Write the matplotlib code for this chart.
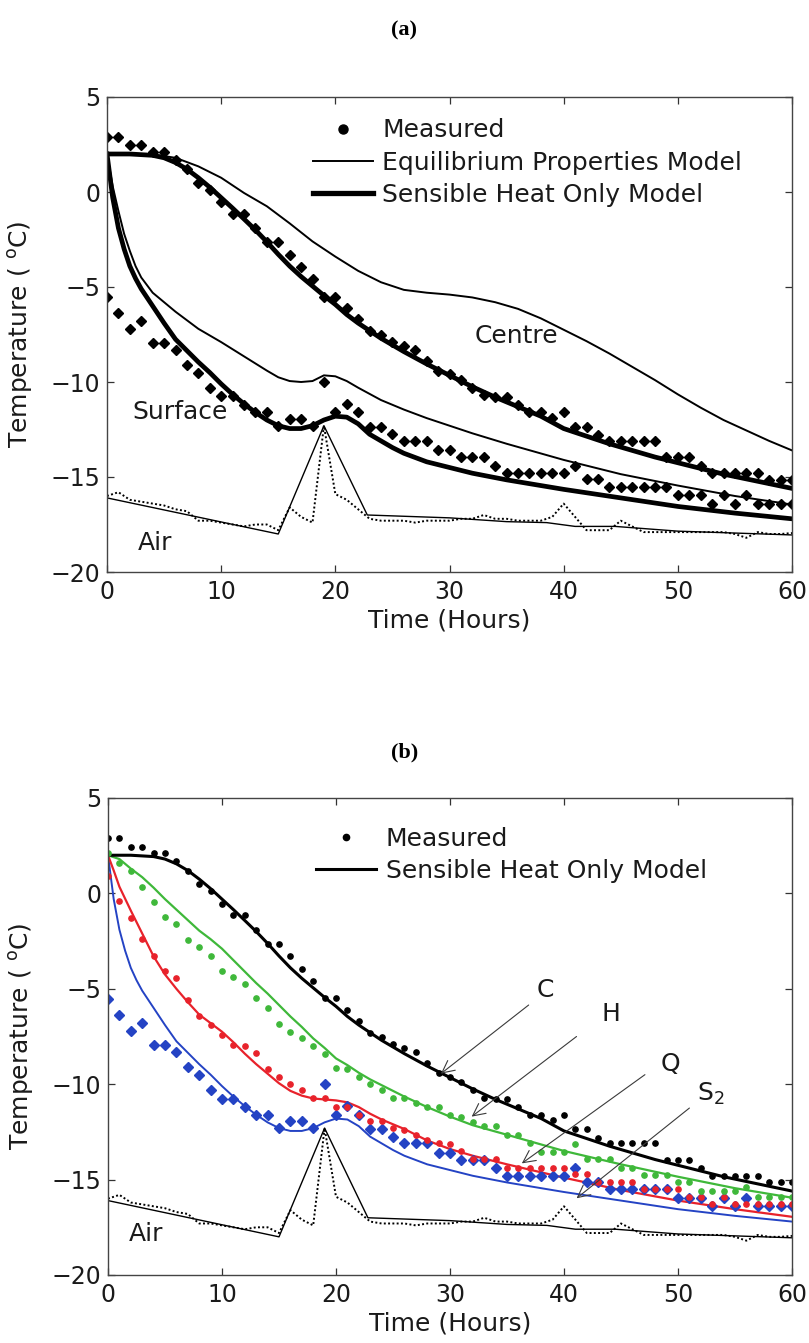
import numpy as np
import matplotlib
matplotlib.use("Agg")
import matplotlib.pyplot as plt
from matplotlib.lines import Line2D

# ---------------- data ----------------
hours = np.arange(0, 61)

# measured product temperatures, one reading per hour
centre_meas = [2.9, 2.9, 2.45, 2.45, 2.1, 2.1, 1.7, 1.2, 0.5, 0.1,
               -0.55, -1.15, -1.15, -1.9, -2.65, -2.65, -3.3, -3.95, -4.6, -5.5,
               -5.5, -6.1, -6.7, -7.3, -7.5, -7.9, -8.1, -8.3, -8.9, -9.4,
               -9.6, -9.9, -10.3, -10.7, -10.8, -10.8, -11.2, -11.6, -11.6, -11.9,
               -11.6, -12.35, -12.35, -12.8, -13.1, -13.1, -13.1, -13.1, -13.1, -13.95,
               -13.95, -13.95, -14.4, -14.8, -14.8, -14.8, -14.8, -14.8, -15.15, -15.15,
               -15.15]
surface_meas = [-5.55, -6.35, -7.2, -6.8, -7.95, -7.95, -8.3, -9.1, -9.5, -10.3,
                -10.75, -10.75, -11.2, -11.6, -11.6, -12.3, -11.95, -11.95, -12.3, -10.0,
                -11.6, -11.15, -11.6, -12.35, -12.35, -12.75, -13.1, -13.1, -13.1, -13.6,
                -13.6, -13.95, -13.95, -13.95, -14.4, -14.8, -14.8, -14.8, -14.8, -14.8,
                -14.8, -14.4, -15.1, -15.1, -15.5, -15.5, -15.5, -15.5, -15.5, -15.5,
                -15.95, -15.95, -15.95, -16.4, -15.95, -16.4, -15.95, -16.4, -16.4, -16.4,
                -16.4]
half_meas = [2.1, 1.6, 1.17, 0.35, -0.43, -1.25, -1.6, -2.44, -2.8, -3.27,
             -4.05, -4.4, -4.75, -5.5, -6.0, -6.85, -7.25, -7.6, -8.0, -8.4,
             -9.15, -9.2, -9.6, -10.0, -10.3, -10.7, -10.7, -11.0, -11.18, -11.18,
             -11.6, -11.7, -11.96, -12.2, -12.2, -12.66, -12.66, -13.1, -13.57, -13.57,
             -13.57, -13.15, -13.9, -13.9, -13.9, -14.4, -14.4, -14.75, -14.75, -14.75,
             -15.1, -15.1, -15.6, -15.6, -15.6, -15.6, -15.4, -15.9, -15.9, -15.9,
             -15.9]
quarter_meas = [0.9, -0.4, -1.3, -2.4, -3.3, -4.05, -4.45, -5.6, -6.4, -6.9,
                -7.4, -7.95, -8.0, -8.35, -9.2, -9.6, -10.0, -10.3, -10.7, -10.7,
                -11.2, -11.2, -11.6, -11.95, -11.95, -12.3, -12.4, -12.65, -12.9, -13.1,
                -13.15, -13.5, -13.9, -13.9, -13.9, -14.4, -14.4, -14.4, -14.4, -14.4,
                -14.4, -14.7, -14.7, -15.1, -15.1, -15.1, -15.1, -15.5, -15.5, -15.5,
                -15.5, -15.9, -15.9, -16.3, -15.9, -16.3, -16.3, -16.3, -16.3, -16.3,
                -16.3]
air_meas = [-16.0, -15.8, -16.2, -16.3, -16.4, -16.5, -16.7, -16.8, -17.3, -17.3,
            -17.4, -17.5, -17.6, -17.5, -17.5, -17.8, -16.6, -17.1, -17.4, -12.3,
            -15.9, -16.2, -16.7, -17.2, -17.3, -17.3, -17.3, -17.4, -17.3, -17.3,
            -17.3, -17.2, -17.2, -17.0, -17.2, -17.2, -17.3, -17.3, -17.3, -17.1,
            -16.4, -17.1, -17.8, -17.8, -17.8, -17.3, -17.6, -17.9, -17.9, -17.9,
            -17.9, -17.9, -17.9, -17.9, -17.9, -18.0, -18.2, -17.9, -18.0, -18.0,
            -17.95]

# air temperature used as model boundary condition
air_model_t = [0, 15, 19, 22.8, 30, 35, 38.5, 41, 44.5, 50, 55, 60]
air_model_T = [-16.1, -18.0, -12.3, -17.0, -17.15, -17.35, -17.4, -17.6, -17.6, -17.85, -17.95, -18.05]

# sensible heat only model, centre
centre_shm_t = [0, 2, 4, 5, 6, 7, 8, 9, 10, 11, 12, 13, 14, 15, 16, 17, 18, 19, 20, 21,
                22, 23, 24, 25, 26, 28, 30, 32, 34, 36, 38, 40, 42, 44, 46, 48, 50, 52,
                54, 56, 58, 60]
centre_shm_T = [2.0, 2.0, 1.93, 1.8, 1.55, 1.2, 0.75, 0.25, -0.3, -0.85, -1.42, -2.0, -2.62,
                -3.28, -3.9, -4.45, -4.95, -5.45, -5.92, -6.45, -6.9, -7.3, -7.7, -8.05,
                -8.4, -9.05, -9.65, -10.25, -10.8, -11.3, -11.8, -12.45, -12.85, -13.25,
                -13.6, -13.95, -14.25, -14.55, -14.85, -15.1, -15.35, -15.6]

# equilibrium properties model, centre
centre_epm_t = [0, 2, 4, 6, 8, 10, 12, 14, 16, 18, 20, 22, 24, 26, 28, 30, 32, 34, 36, 38,
                40, 42, 44, 46, 48, 50, 52, 54, 56, 58, 60]
centre_epm_T = [2.0, 2.0, 1.98, 1.8, 1.35, 0.75, -0.05, -0.75, -1.65, -2.6, -3.4, -4.15,
                -4.75, -5.15, -5.3, -5.4, -5.55, -5.8, -6.15, -6.65, -7.25, -7.85, -8.5,
                -9.2, -9.9, -10.65, -11.35, -12.0, -12.55, -13.1, -13.6]

# equilibrium properties model, surface
surface_epm_t = [0, 0.5, 1, 1.5, 2, 2.5, 3, 4, 5, 6, 7, 8, 10, 12, 14, 15, 16, 17, 18, 19,
                 20, 21, 22, 24, 26, 28, 30, 32, 35, 40, 45, 50, 55, 60]
surface_epm_T = [2.0, 0.3, -1.0, -2.2, -3.1, -3.9, -4.5, -5.3, -5.8, -6.3, -6.75, -7.2,
                 -7.9, -8.65, -9.4, -9.75, -9.95, -10.0, -9.95, -9.65, -9.7, -9.95, -10.3,
                 -10.95, -11.45, -11.9, -12.3, -12.7, -13.25, -14.1, -14.85, -15.45, -16.0,
                 -16.45]

# sensible heat only model, surface (S2)
surface_shm_t = [0, 0.5, 1, 1.5, 2, 2.5, 3, 4, 5, 6, 7, 8, 9, 10, 11, 12, 13, 14, 15, 16,
                 17, 18, 19, 20, 21, 22, 23, 24, 25, 26, 28, 30, 32, 35, 40, 45, 50, 55, 60]
surface_shm_T = [2.0, -0.3, -1.9, -3.0, -3.9, -4.55, -5.1, -6.0, -6.9, -7.75, -8.35, -8.95,
                 -9.5, -10.1, -10.65, -11.15, -11.6, -12.0, -12.3, -12.45, -12.45, -12.3,
                 -12.0, -11.8, -11.85, -12.2, -12.75, -13.1, -13.45, -13.75, -14.2, -14.5,
                 -14.8, -15.15, -15.65, -16.1, -16.55, -16.9, -17.2]

# sensible heat only model, quarter depth (Q)
quarter_shm_t = [0, 0.5, 1, 2, 3, 4, 5, 6, 7, 8, 9, 10, 11, 12, 13, 14, 15, 16, 17, 18, 19,
                 20, 21, 22, 23, 24, 26, 28, 30, 32, 35, 40, 45, 50, 55, 60]
quarter_shm_T = [2.0, 1.2, 0.35, -0.9, -2.1, -3.3, -4.25, -5.0, -5.7, -6.35, -6.8, -7.25,
                 -7.8, -8.4, -8.95, -9.45, -9.95, -10.35, -10.6, -10.75, -10.8, -10.85,
                 -10.95, -11.2, -11.55, -11.85, -12.35, -12.95, -13.4, -13.75, -14.2,
                 -14.9, -15.55, -16.1, -16.55, -16.95]

# sensible heat only model, half depth (H)
half_shm_t = [0, 1, 2, 3, 4, 5, 6, 7, 8, 9, 10, 11, 12, 13, 14, 15, 16, 17, 18, 19, 20,
              21, 22, 23, 24, 26, 28, 30, 32, 35, 40, 45, 50, 55, 60]
half_shm_T = [2.0, 1.8, 1.3, 0.85, 0.3, -0.3, -0.85, -1.4, -1.95, -2.4, -2.9, -3.5, -4.1,
              -4.7, -5.25, -5.85, -6.45, -7.0, -7.6, -8.1, -8.65, -9.0, -9.4, -9.75, -10.05,
              -10.65, -11.2, -11.7, -12.15, -12.65, -13.5, -14.2, -14.85, -15.45, -15.95]

x_ticks = [0, 10, 20, 30, 40, 50, 60]
y_ticks = [-20, -15, -10, -5, 0, 5]

# ---------------- style ----------------
GREEN = "#3fb83a"
RED = "#e8222b"
BLUE = "#2443c4"
TXT = "#1a1a1a"
FS_TICK = 17
FS_LAB = 18
FS_TXT = 18

W, H = 809, 1343
fig = plt.figure(figsize=(W / 100, H / 100), dpi=100)


def frame(ax):
    ax.set_xlim(0, 60)
    ax.set_ylim(-20, 5)
    ax.set_xticks(x_ticks)
    ax.set_yticks(y_ticks)
    ax.tick_params(direction="in", top=True, right=True, length=5, width=0.9,
                   colors="#333333", labelcolor=TXT, labelsize=FS_TICK)
    ax.tick_params(axis="x", pad=6)
    ax.tick_params(axis="y", pad=5)
    for s in ax.spines.values():
        s.set_color("#444444")
        s.set_linewidth(1.0)
    ax.set_xlabel("Time (Hours)", fontsize=FS_LAB, color=TXT, labelpad=3)
    ax.set_ylabel("Temperature ( $^{\\mathrm{o}}$C)", fontsize=FS_LAB, color=TXT)
    ax.yaxis.set_label_coords(-0.105, 0.5)


# ---------------- panel (a) ----------------
ax = fig.add_axes([107 / W, 1 - 572 / H, 685 / W, 475 / H])
frame(ax)
ax.plot(air_model_t, air_model_T, color="black", lw=1.0)
ax.plot(hours, air_meas, color="black", lw=1.4, ls=(0, (1, 1.2)))
ax.plot(centre_epm_t, centre_epm_T, color="black", lw=1.4)
ax.plot(surface_epm_t, surface_epm_T, color="black", lw=1.4)
ax.plot(centre_shm_t, centre_shm_T, color="black", lw=3.4)
ax.plot(surface_shm_t, surface_shm_T, color="black", lw=3.4)
ax.plot(hours, centre_meas, ls="none", marker="D", ms=5, color="black")
ax.plot(hours, surface_meas, ls="none", marker="D", ms=5, color="black")
ax.text(35.9, -7.6, "Centre", fontsize=FS_TXT, ha="center", va="center", color=TXT)
ax.text(6.4, -11.6, "Surface", fontsize=FS_TXT, ha="center", va="center", color=TXT)
ax.text(4.2, -18.5, "Air", fontsize=FS_TXT, ha="center", va="center", color=TXT)
handles_a = [
    Line2D([], [], ls="none", marker="o", ms=6.5, color="black"),
    Line2D([], [], color="black", lw=1.4),
    Line2D([], [], color="black", lw=3.8),
]
ax.legend(handles_a, ["Measured", "Equilibrium Properties Model", "Sensible Heat Only Model"],
          loc="upper left", bbox_to_anchor=(0.30, 0.955), frameon=False, fontsize=FS_TXT,
          handlelength=2.4, handletextpad=0.4, labelspacing=0.33, borderpad=0,
          borderaxespad=0, labelcolor=TXT)

# ---------------- panel (b) ----------------
bx = fig.add_axes([108 / W, 1 - 1275 / H, 684 / W, 477 / H])
frame(bx)
bx.plot(air_model_t, air_model_T, color="black", lw=1.0)
bx.plot(hours, air_meas, color="black", lw=1.4, ls=(0, (1, 1.2)))
bx.plot(surface_shm_t, surface_shm_T, color=BLUE, lw=1.4)
bx.plot(quarter_shm_t, quarter_shm_T, color=RED, lw=1.6)
bx.plot(half_shm_t, half_shm_T, color=GREEN, lw=1.6)
bx.plot(centre_shm_t, centre_shm_T, color="black", lw=2.2)
bx.plot(hours, surface_meas, ls="none", marker="D", ms=4.6, color=BLUE)
bx.plot(hours, quarter_meas, ls="none", marker="o", ms=3.8, color=RED)
bx.plot(hours, half_meas, ls="none", marker="o", ms=3.8, color=GREEN)
bx.plot(hours, centre_meas, ls="none", marker="o", ms=3.8, color="black")
bx.text(3.3, -17.85, "Air", fontsize=FS_TXT, ha="center", va="center", color=TXT)

arrow_kw = dict(arrowstyle="->", lw=0.8, color="#3a3a3a", mutation_scale=22,
                shrinkA=0, shrinkB=0)
labels_b = [("C", (38.4, -5.06), (36.9, -5.85), (29.2, -9.45)),
            ("H", (44.1, -6.3), (41.1, -7.5), (31.9, -11.7)),
            ("Q", (49.3, -8.94), (47.1, -9.5), (36.3, -14.15)),
            ("S$_2$", (52.9, -10.5), (51.0, -11.25), (41.1, -15.98))]
for name, tpos, start, end in labels_b:
    bx.text(*tpos, name, fontsize=FS_TXT, ha="center", va="center", color=TXT)
    bx.annotate("", xy=end, xytext=start, arrowprops=arrow_kw)

handles_b = [
    Line2D([], [], ls="none", marker="o", ms=4.5, color="black"),
    Line2D([], [], color="black", lw=2.2),
]
bx.legend(handles_b, ["Measured", "Sensible Heat Only Model"],
          loc="upper left", bbox_to_anchor=(0.3036, 0.9395), frameon=False, fontsize=FS_TXT,
          handlelength=2.4, handletextpad=0.4, labelspacing=0.33, borderpad=0,
          borderaxespad=0, labelcolor=TXT)

# ---------------- panel titles ----------------
fig.text(0.5, 1 - 30 / H, "(a)", ha="center", va="center", fontsize=16,
         family="Liberation Serif", weight="bold")
fig.text(0.5, 1 - 752 / H, "(b)", ha="center", va="center", fontsize=16,
         family="Liberation Serif", weight="bold")

fig.savefig("out.png", dpi=100, facecolor="white")
